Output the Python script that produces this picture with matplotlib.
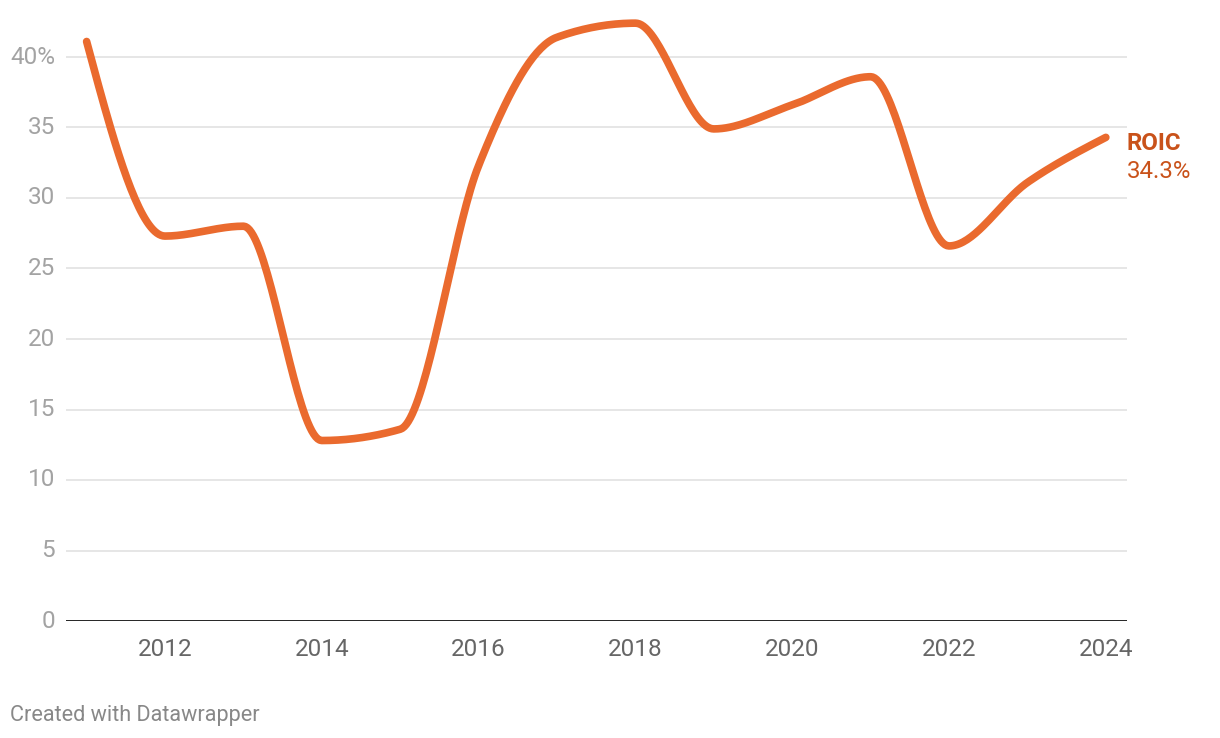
import numpy as np
import matplotlib.pyplot as plt

plt.rcParams['font.family'] = ['Roboto', 'DejaVu Sans']

years = [2011, 2012, 2013, 2014, 2015, 2016, 2017, 2018, 2019, 2020, 2021, 2022, 2023, 2024]
roic = [41.1, 27.3, 28.0, 12.8, 13.6, 32.3, 41.4, 42.4, 34.9, 36.6, 38.6, 26.6, 31.1, 34.3]
yticks = [0, 5, 10, 15, 20, 25, 30, 35, 40]
ylabels = ['0', '5', '10', '15', '20', '25', '30', '35', '40%']
xticks = [2012, 2014, 2016, 2018, 2020, 2022, 2024]


def monotone(x, y, n=40):
    # d3 curveMonotoneX style interpolation, only for drawing the line
    x = np.asarray(x, float)
    y = np.asarray(y, float)
    h = np.diff(x)
    s = np.diff(y) / h
    m = np.zeros(len(x))
    for i in range(1, len(x) - 1):
        if s[i - 1] * s[i] <= 0:
            m[i] = 0
        else:
            p = (s[i - 1] * h[i] + s[i] * h[i - 1]) / (h[i - 1] + h[i])
            m[i] = (np.sign(s[i - 1]) + np.sign(s[i])) * min(abs(s[i - 1]), abs(s[i]), 0.5 * abs(p))
    m[0] = (3 * s[0] - m[1]) / 2
    m[-1] = (3 * s[-1] - m[-2]) / 2
    xs, ys = [], []
    for i in range(len(x) - 1):
        t = np.linspace(0, 1, n)
        h00 = 2 * t**3 - 3 * t**2 + 1
        h10 = t**3 - 2 * t**2 + t
        h01 = -2 * t**3 + 3 * t**2
        h11 = t**3 - t**2
        xs.extend(x[i] + t * h[i])
        ys.extend(h00 * y[i] + h10 * h[i] * m[i] + h01 * y[i + 1] + h11 * h[i] * m[i + 1])
    return np.array(xs), np.array(ys)


fig = plt.figure(figsize=(12.2, 7.38), dpi=100)
ax = fig.add_axes([66 / 1220, 1 - 621 / 738, (1127 - 66) / 1220, (621 - 14.7) / 738])

cx, cy = monotone(years, roic)
ax.plot(cx, cy, color='#ea6a2e', linewidth=5.5, solid_capstyle='round', zorder=3)

ax.set_xlim(2010.737, 2024.27)
ax.set_ylim(0, 43)
ax.set_yticks(yticks)
ax.set_yticklabels(ylabels)
ax.set_xticks(xticks)
for v in yticks[1:]:
    ax.axhline(v, color='#e2e2e2', linewidth=1.2, zorder=1)
ax.axhline(0, color='#111111', linewidth=2, zorder=2)

for sp in ax.spines.values():
    sp.set_visible(False)
ax.tick_params(axis='both', length=0)
ax.tick_params(axis='y', labelsize=17.5, labelcolor='#a3a3a3', pad=8)
ax.tick_params(axis='x', labelsize=17.5, labelcolor='#666666', pad=12)
for lab in ax.get_yticklabels():
    lab.set_verticalalignment('center')

ax.annotate('ROIC', xy=(years[-1], roic[-1]), xytext=(15, -4.5), textcoords='offset points',
            fontsize=17.3, fontweight='bold', color='#c9521a', va='center', annotation_clip=False)
ax.annotate('34.3%', xy=(years[-1], roic[-1]), xytext=(15, -24.5), textcoords='offset points',
            fontsize=17.3, color='#c9521a', va='center', annotation_clip=False)

fig.text(10 / 1220, 1 - 715 / 738, 'Created with Datawrapper', fontsize=15.6,
         color='#888888', va='center')

fig.savefig('out.png', dpi=100)
